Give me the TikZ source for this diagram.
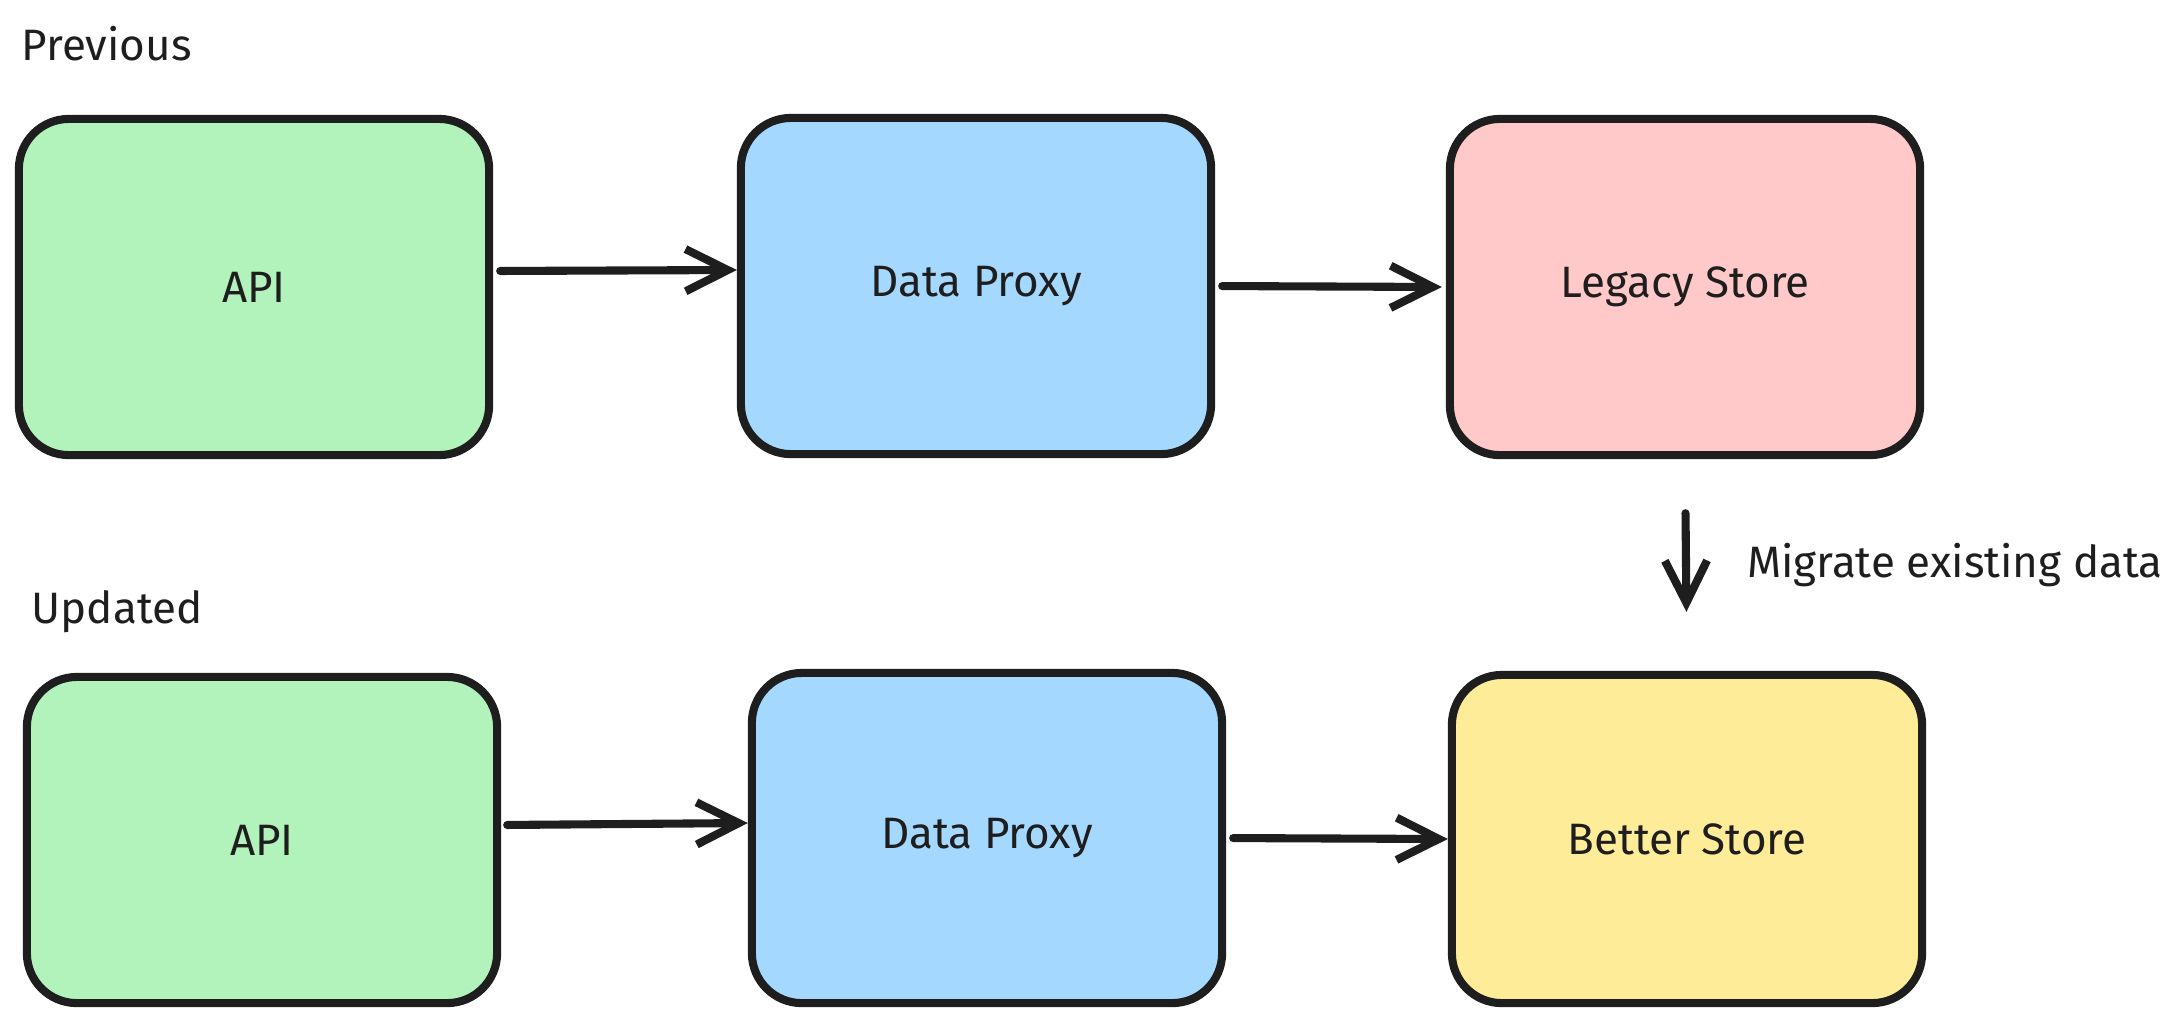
\documentclass[tikz,border=0pt]{standalone}
\usepackage{fontspec}
\setmainfont{Fira Sans}
\usetikzlibrary{arrows.meta}
\definecolor{ink}{HTML}{1E1E1E}
\definecolor{apigreen}{HTML}{B2F2BB}
\definecolor{proxyblue}{HTML}{A5D8FF}
\definecolor{legacypink}{HTML}{FFC9C9}
\definecolor{betteryellow}{HTML}{FFEC99}

\begin{document}
\begin{tikzpicture}[x=0.01cm, y=-0.01cm,
    box/.style={draw=ink, line width=2.3pt, rounded corners=0.5cm,
      minimum width=4.7cm, minimum height=3.36cm, text=ink,
      font=\fontsize{12.5}{15}\selectfont},
    link/.style={draw=ink, line width=2.3pt, line cap=round,
      -{Straight Barb[length=12pt, width=12pt, line width=2.3pt]}},
    caption/.style={text=ink, anchor=west, inner sep=0pt,
      font=\fontsize{12.5}{15}\selectfont}]
  \useasboundingbox (0,0) rectangle (2179,1029);

  \node[caption] (prev) at (21,44) {Previous};
  \node[caption] (upd) at (31,612) {Updated};

  \node[box, fill=apigreen] (api1) at (254,287) {API};
  \node[box, fill=proxyblue] (proxy1) at (976,286) {Data Proxy};
  \node[box, fill=legacypink] (legacy) at (1685,287) {Legacy Store};

  \node[box, fill=apigreen, minimum height=3.26cm] (api2) at (262,840) {API};
  \node[box, fill=proxyblue, minimum height=3.3cm] (proxy2) at (987,838) {Data Proxy};
  \node[box, fill=betteryellow, minimum height=3.28cm] (better) at (1687,839) {Better Store};

  \draw[link, shorten <=0.07cm] ([yshift=0.16cm]api1.east) -- ([yshift=0.16cm]proxy1.west);
  \draw[link, shorten <=0.07cm, shorten >=0.04cm] (proxy1.east) -- (legacy.west);
  \draw[link, shorten <=0.06cm] ([yshift=0.15cm]api2.east) -- ([yshift=0.15cm]proxy2.west);
  \draw[link, shorten <=0.07cm] (proxy2.east) -- (better.west);

  \draw[link, shorten <=0.54cm, shorten >=0.59cm] (legacy.south) -- (better.north)
    node[caption, midway, xshift=0.57cm] (migrate) {Migrate existing data};
\end{tikzpicture}
\end{document}
